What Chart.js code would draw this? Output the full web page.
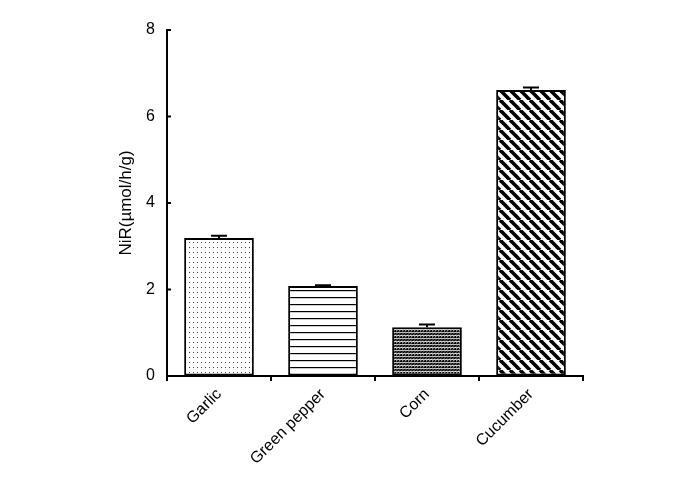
<!DOCTYPE html>
<html>
<head>
<meta charset="utf-8">
<script src="https://cdn.jsdelivr.net/npm/chart.js@4/dist/chart.umd.min.js"></script>
<style>
  html, body { margin: 0; padding: 0; background: #fff; }
  #wrap { width: 688px; height: 490px; }
</style>
</head>
<body>
<div id="wrap"><canvas id="chart" width="688" height="490"></canvas></div>
<script>
// data
var categories = ['Garlic', 'Green pepper', 'Corn', 'Cucumber'];
var values = [3.19, 2.08, 1.13, 6.61];
var errors = [0.05, 0.02, 0.06, 0.06];
var yTicks = [0, 2, 4, 6, 8];

// fill patterns
function makePattern(w, h, draw) {
  var c = document.createElement('canvas');
  c.width = w; c.height = h;
  var g = c.getContext('2d');
  g.fillStyle = '#fff';
  g.fillRect(0, 0, w, h);
  draw(g);
  return document.createElement('canvas').getContext('2d').createPattern(c, 'repeat');
}

var dots = makePattern(4, 5, function (g) {
  g.fillStyle = '#444';
  g.fillRect(1, 2, 1, 1);
});
var hlines = makePattern(8, 7, function (g) {
  g.fillStyle = '#000';
  g.fillRect(0, 3, 8, 1.2);
});
var fineHatch = makePattern(6, 6, function (g) {
  g.strokeStyle = '#000';
  g.lineWidth = 1.8;
  for (var k = -6; k <= 12; k += 3) {
    g.beginPath(); g.moveTo(k, 6); g.lineTo(k + 6, 0); g.stroke();
  }
  g.fillStyle = '#fff';
  g.fillRect(0, 2, 6, 0.7);
  g.fillRect(0, 5, 6, 0.7);
});
var boldHatch = makePattern(10, 10, function (g) {
  g.strokeStyle = '#000';
  g.lineWidth = 3.6;
  for (var k = -10; k <= 20; k += 10) {
    g.beginPath(); g.moveTo(k, 0); g.lineTo(k + 10, 10); g.stroke();
  }
});

// upper error bars + inward y tick marks
var extras = {
  id: 'extras',
  afterDatasetsDraw: function (chart) {
    var ctx = chart.ctx;
    var y = chart.scales.y;
    var meta = chart.getDatasetMeta(0);
    ctx.save();
    ctx.strokeStyle = '#000';
    ctx.lineWidth = 2;
    meta.data.forEach(function (bar, i) {
      var top = y.getPixelForValue(values[i] + errors[i]);
      var base = y.getPixelForValue(values[i]);
      ctx.beginPath();
      ctx.moveTo(bar.x, base); ctx.lineTo(bar.x, top);
      ctx.moveTo(bar.x - 8, top); ctx.lineTo(bar.x + 8, top);
      ctx.stroke();
    });
    var left = chart.chartArea.left;
    yTicks.forEach(function (v) {
      var py = y.getPixelForValue(v);
      ctx.beginPath();
      ctx.moveTo(left, py); ctx.lineTo(left + 4, py);
      ctx.stroke();
    });
    ctx.restore();
  }
};

new Chart(document.getElementById('chart'), {
  type: 'bar',
  data: {
    labels: categories,
    datasets: [{
      data: values,
      backgroundColor: [dots, hlines, fineHatch, boldHatch],
      borderColor: '#000',
      borderWidth: 2,
      borderSkipped: false,
      barPercentage: 0.67,
      categoryPercentage: 1
    }]
  },
  options: {
    responsive: false,
    animation: false,
    layout: { padding: { left: 116, right: 105, top: 30, bottom: 0 } },
    plugins: { legend: { display: false }, tooltip: { enabled: false } },
    scales: {
      x: {
        grid: { drawOnChartArea: false, drawTicks: true, tickLength: 5, color: '#000', lineWidth: 2 },
        border: { color: '#000', width: 2 },
        ticks: {
          color: '#000', padding: 4, maxRotation: 45, minRotation: 45,
          font: { family: 'Liberation Sans, Arial, sans-serif', size: 16 }
        },
        afterFit: function (s) { s.height = 114; }
      },
      y: {
        min: 0, max: 8,
        grid: { drawOnChartArea: false, drawTicks: false },
        border: { color: '#000', width: 2 },
        ticks: {
          stepSize: 2, color: '#000', padding: 12,
          font: { family: 'Liberation Sans, Arial, sans-serif', size: 16 }
        },
        title: {
          display: true, text: 'NiR(µmol/h/g)', color: '#000', padding: 0,
          font: { family: 'Liberation Sans, Arial, sans-serif', size: 17 }
        },
        afterFit: function (s) { s.width = 51; }
      }
    }
  },
  plugins: [extras]
});
</script>
</body>
</html>
